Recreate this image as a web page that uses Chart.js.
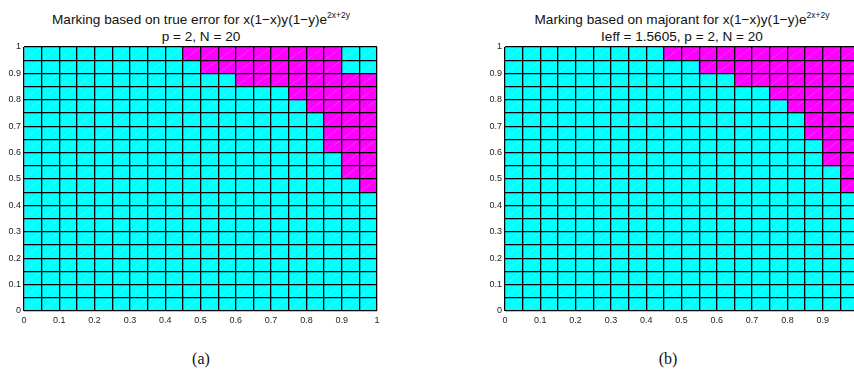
<!DOCTYPE html>
<html>
<head>
<meta charset="utf-8">
<script src="https://cdn.jsdelivr.net/npm/chart.js@4/dist/chart.umd.min.js"></script>
<style>
  html, body { margin: 0; padding: 0; background: #fff; width: 854px; height: 385px; overflow: hidden; position: relative; }
  canvas { position: absolute; top: 0; }
  .title { position: absolute; top: 12px; width: 400px; text-align: center; font: 13.6px "Liberation Sans", Arial, sans-serif; line-height: 15px; color: #111; white-space: nowrap; }
  .sup { font-size: 8.5px; position: relative; top: -6px; }
  .cap { position: absolute; top: 350px; width: 60px; text-align: center; font: 16px "Liberation Serif", serif; color: #111; }
</style>
</head>
<body>
<div class="title" id="titleA" style="left:1px"></div>
<div class="title" id="titleB" style="left:482px"></div>
<div class="cap" style="left:171px">(a)</div>
<div class="cap" style="left:638px">(b)</div>
<canvas id="meshA" width="400" height="340" style="left:0px"></canvas>
<canvas id="meshB" width="400" height="340" style="left:481px"></canvas>
<script>
// Uniform N x N mesh on the unit square; rows numbered bottom (0) to top (N-1).
const N = 20;
const tickLabels = ['0', '0.1', '0.2', '0.3', '0.4', '0.5', '0.6', '0.7', '0.8', '0.9', '1'];

// Marked elements per row: x-range [from, to] of the refined cells (null = none marked).
const markFromA = [null, null, null, null, null, null, null, null, null, 0.95, 0.90, 0.90, 0.85, 0.85, 0.85, 0.80, 0.75, 0.60, 0.50, 0.45];
const markToA   = [null, null, null, null, null, null, null, null, null, 1.00, 1.00, 1.00, 1.00, 1.00, 1.00, 1.00, 1.00, 1.00, 0.90, 0.90];
const markFromB = [null, null, null, null, null, null, null, null, null, 0.95, 0.95, 0.90, 0.90, 0.85, 0.85, 0.80, 0.75, 0.65, 0.55, 0.45];
const markToB   = [null, null, null, null, null, null, null, null, null, 1.00, 1.00, 1.00, 1.00, 1.00, 1.00, 1.00, 1.00, 1.00, 1.00, 1.00];

const titleA = ['Marking based on true error for x(1\u2212x)y(1\u2212y)e', '2x+2y', 'p = 2, N = 20'];
const titleB = ['Marking based on majorant for x(1\u2212x)y(1\u2212y)e', '2x+2y', 'Ieff = 1.5605, p = 2, N = 20'];

const CYAN = '#00ffff';
const MAGENTA = '#ff00ff';

function setTitle(id, parts) {
  const el = document.getElementById(id);
  el.textContent = '';
  el.appendChild(document.createTextNode(parts[0]));
  const s = document.createElement('span');
  s.className = 'sup';
  s.textContent = parts[1];
  el.appendChild(s);
  el.appendChild(document.createElement('br'));
  el.appendChild(document.createTextNode(parts[2]));
}
setTitle('titleA', titleA);
setTitle('titleB', titleB);

// White diagonal of every triangle pair, drawn under the mesh lines.
const meshDiagonals = {
  id: 'meshDiagonals',
  afterDatasetsDraw(chart) {
    const { ctx, chartArea, scales: { x, y } } = chart;
    ctx.save();
    ctx.beginPath();
    ctx.rect(chartArea.left, chartArea.top, chartArea.width, chartArea.height);
    ctx.clip();
    ctx.strokeStyle = 'rgba(255,255,255,0.38)';
    ctx.lineWidth = 0.5;
    ctx.beginPath();
    for (let i = 0; i < N; i++) {
      for (let j = 0; j < N; j++) {
        ctx.moveTo(x.getPixelForValue(i / N), y.getPixelForValue(j / N));
        ctx.lineTo(x.getPixelForValue((i + 1) / N), y.getPixelForValue((j + 1) / N));
      }
    }
    ctx.stroke();
    ctx.restore();
  }
};

function tickText(value) {
  const k = Math.round(value * 10);
  return Math.abs(value * 10 - k) < 1e-6 ? tickLabels[k] : '';
}

function axis(pos, fit) {
  return {
    type: 'linear',
    position: pos,
    min: 0,
    max: 1,
    offset: false,
    beginAtZero: false,
    afterFit: fit,
    ticks: {
      stepSize: 1 / N,
      autoSkip: false,
      maxRotation: 0,
      padding: pos === 'left' ? 3 : 4,
      color: '#222',
      font: { family: '"Liberation Sans", Arial, sans-serif', size: 9 },
      callback: tickText
    },
    grid: { color: '#000', lineWidth: 1.3, drawTicks: false, offset: false, z: 1 },
    border: { display: false }
  };
}

function makeMesh(canvasId, markFrom, markTo) {
  const rows = Array.from({ length: N }, (_, r) => r);
  const base = rows.map(r => ({ y: (r + 0.5) / N, x: [0, 1] }));
  const marked = rows
    .filter(r => markFrom[r] !== null)
    .map(r => ({ y: (r + 0.5) / N, x: [markFrom[r], markTo[r]] }));

  new Chart(document.getElementById(canvasId), {
    type: 'bar',
    data: {
      datasets: [
        { data: marked, backgroundColor: MAGENTA, borderWidth: 0, grouped: false, categoryPercentage: 1, barPercentage: 1, order: 0 },
        { data: base, backgroundColor: CYAN, borderWidth: 0, grouped: false, categoryPercentage: 1, barPercentage: 1, order: 1 }
      ]
    },
    options: {
      indexAxis: 'y',
      responsive: false,
      animation: false,
      devicePixelRatio: 1,
      layout: { padding: { left: 0, top: 47, right: 23, bottom: 9 } },
      plugins: { legend: { display: false }, tooltip: { enabled: false }, title: { display: false } },
      scales: {
        x: axis('bottom', s => { s.height = 20; }),
        y: axis('left', s => { s.width = 24; })
      }
    },
    plugins: [meshDiagonals]
  });
}

makeMesh('meshA', markFromA, markToA);
makeMesh('meshB', markFromB, markToB);
</script>
</body>
</html>
